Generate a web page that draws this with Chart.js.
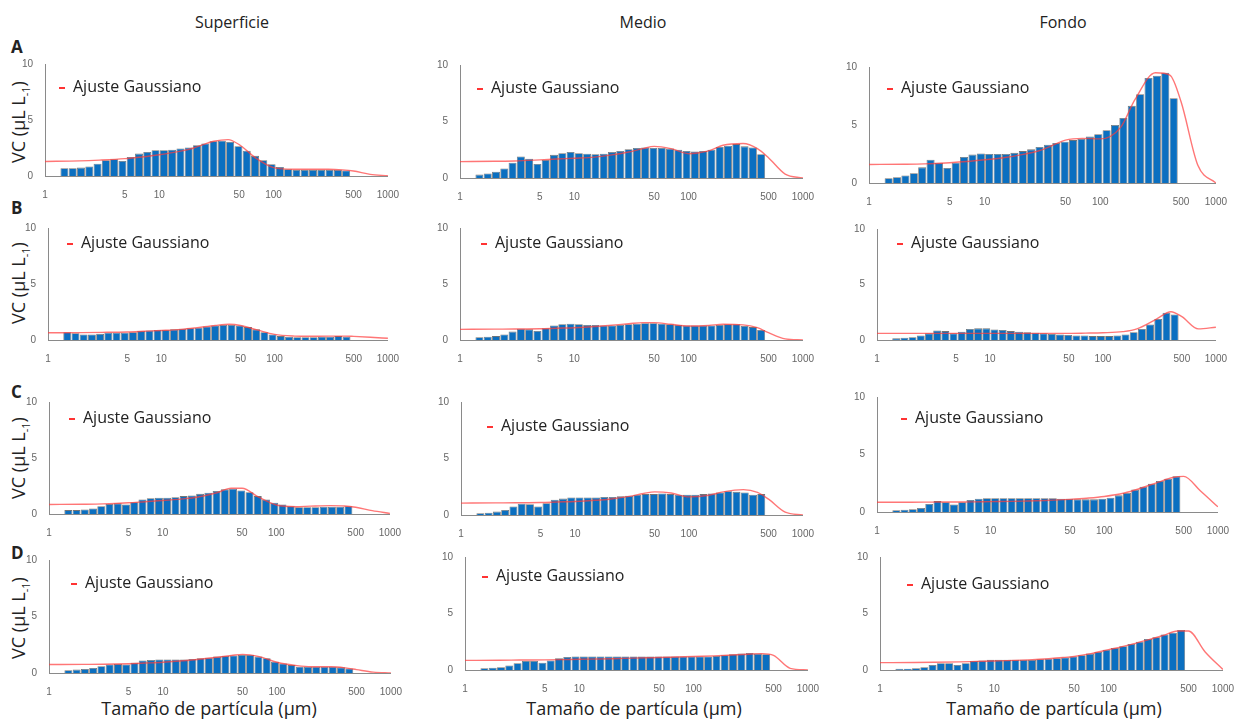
<!DOCTYPE html>
<html>
<head>
<meta charset="utf-8">
<script src="https://cdn.jsdelivr.net/npm/chart.js@4.4.0/dist/chart.umd.min.js"></script>
<style>
  body { margin: 0; background: #fff; width: 1238px; height: 721px; position: relative; overflow: hidden;
         font-family: 'Open Sans', sans-serif; color: #222; }
  canvas { position: absolute; }
  .t { position: absolute; white-space: nowrap; line-height: 22px; }
  .col { font-size: 16px; top: 11px; transform: translateX(-50%); }
  .row { font-size: 17px; font-weight: bold; left: 11px; }
  .yt { font-size: 18px; left: 22px; transform: translate(-50%, -50%) rotate(-90deg); }
  .yt sub { font-size: 11px; }
  .xt { font-size: 18px; top: 697px; transform: translateX(-50%); }
  .leg { font-size: 16px; }
  .leg::before { content: ''; display: inline-block; width: 6px; height: 2px; background: #f33;
                 margin-right: 8px; vertical-align: middle; }
</style>
</head>
<body>
<div class="t col" style="left:232px">Superficie</div>
<div class="t col" style="left:643px">Medio</div>
<div class="t col" style="left:1063px">Fondo</div>

<div class="t row" style="top:36px">A</div>
<div class="t row" style="top:197px">B</div>
<div class="t row" style="top:381px">C</div>
<div class="t row" style="top:542px">D</div>

<div class="t yt" style="top:122px">VC (µL L<sub>-1</sub>)</div>
<div class="t yt" style="top:283px">VC (µL L<sub>-1</sub>)</div>
<div class="t yt" style="top:458px">VC (µL L<sub>-1</sub>)</div>
<div class="t yt" style="top:618px">VC (µL L<sub>-1</sub>)</div>

<div class="t xt" style="left:209px">Tamaño de partícula (µm)</div>
<div class="t xt" style="left:634px">Tamaño de partícula (µm)</div>
<div class="t xt" style="left:1054px">Tamaño de partícula (µm)</div>

<script>
// bin centres (µm) and positions where the gaussian fit was read
const binSizes = [1.479, 1.748, 2.065, 2.441, 2.884, 3.408, 4.027, 4.759, 5.623, 6.645,
  7.852, 9.279, 10.96, 12.96, 15.31, 18.09, 21.38, 25.26, 29.85, 35.28,
  41.69, 49.26, 58.21, 68.79, 81.28, 96.05, 113.5, 134.1, 158.5, 187.3,
  221.3, 261.6, 309.0, 365.3, 431.5];
const fitSizes = [1, 2, 3, 5, 7, 10, 15, 20, 30, 40, 50, 70, 100, 150, 200, 300, 400, 500, 700, 1000];
const xTicks = [1, 5, 10, 50, 100, 500, 1000];
const yTicks = [0, 5, 10];

// A
const supA = [0.7, 0.7, 0.75, 0.85, 1.1, 1.4, 1.5, 1.35, 1.7, 2.0, 2.15, 2.3, 2.3, 2.35, 2.45, 2.55, 2.75, 2.9,
  3.1, 3.15, 3.05, 2.65, 2.25, 1.8, 1.4, 1.05, 0.8, 0.6, 0.55, 0.55, 0.55, 0.55, 0.55, 0.55, 0.5];
const supAFit = [1.3, 1.35, 1.42, 1.55, 1.7, 1.9, 2.2, 2.5, 3.1, 3.25, 2.8, 1.6, 0.75, 0.6, 0.6, 0.6, 0.55, 0.45, 0.15, 0.02];
const medA = [0.3, 0.4, 0.55, 0.85, 1.35, 1.9, 1.7, 1.25, 1.6, 2.05, 2.2, 2.3, 2.2, 2.15, 2.1, 2.15, 2.3, 2.4,
  2.55, 2.65, 2.7, 2.65, 2.65, 2.6, 2.5, 2.4, 2.35, 2.4, 2.5, 2.75, 2.85, 3.0, 2.8, 2.7, 2.1];
const medAFit = [1.45, 1.48, 1.5, 1.6, 1.68, 1.75, 1.85, 2.0, 2.3, 2.6, 2.8, 2.6, 2.15, 2.4, 2.9, 3.05, 2.6, 1.8, 0.35, 0.0];
const fonA = [0.42, 0.5, 0.65, 0.85, 1.35, 2.0, 1.75, 1.3, 1.75, 2.25, 2.45, 2.55, 2.5, 2.5, 2.5, 2.6, 2.75, 2.9,
  3.1, 3.3, 3.45, 3.55, 3.7, 3.8, 4.0, 4.2, 4.55, 5.0, 5.6, 6.65, 7.65, 9.05, 9.25, 9.5, 7.3];
const fonAFit = [1.6, 1.62, 1.65, 1.75, 1.85, 2.0, 2.2, 2.4, 2.8, 3.3, 3.7, 3.85, 3.8, 4.8, 7.2, 9.5, 9.3, 7.0, 1.5, 0.0];

// B
const supB = [0.7, 0.6, 0.5, 0.5, 0.55, 0.65, 0.65, 0.65, 0.7, 0.8, 0.85, 0.9, 0.9, 0.95, 1.0, 1.05, 1.1, 1.2,
  1.3, 1.35, 1.35, 1.3, 1.15, 0.95, 0.7, 0.5, 0.35, 0.3, 0.25, 0.25, 0.25, 0.3, 0.3, 0.35, 0.3];
const supBFit = [0.65, 0.66, 0.68, 0.72, 0.78, 0.85, 0.95, 1.08, 1.3, 1.4, 1.3, 0.9, 0.5, 0.35, 0.33, 0.35, 0.35, 0.32, 0.25, 0.15];
const medB = [0.25, 0.3, 0.35, 0.5, 0.75, 1.0, 0.95, 0.8, 1.05, 1.3, 1.4, 1.45, 1.4, 1.35, 1.35, 1.3, 1.3, 1.35,
  1.4, 1.45, 1.5, 1.5, 1.45, 1.4, 1.35, 1.3, 1.3, 1.3, 1.3, 1.35, 1.4, 1.4, 1.25, 1.15, 0.9];
const medBFit = [0.95, 0.97, 0.98, 1.0, 1.05, 1.1, 1.2, 1.3, 1.45, 1.55, 1.55, 1.4, 1.25, 1.3, 1.4, 1.35, 1.1, 0.65, 0.1, 0.0];
const fonB = [0.15, 0.2, 0.25, 0.4, 0.6, 0.85, 0.8, 0.6, 0.75, 1.0, 1.05, 1.05, 0.95, 0.9, 0.8, 0.75, 0.7, 0.65,
  0.6, 0.55, 0.5, 0.45, 0.4, 0.4, 0.35, 0.35, 0.35, 0.4, 0.5, 0.7, 1.0, 1.4, 1.9, 2.45, 2.3];
const fonBFit = [0.6, 0.6, 0.6, 0.6, 0.6, 0.6, 0.6, 0.6, 0.6, 0.6, 0.6, 0.62, 0.65, 0.75, 1.0, 1.9, 2.55, 2.1, 1.0, 1.15];

// C
const supC = [0.35, 0.35, 0.4, 0.5, 0.7, 0.9, 0.95, 0.85, 1.05, 1.3, 1.4, 1.45, 1.45, 1.5, 1.6, 1.65, 1.8, 1.9,
  2.05, 2.2, 2.25, 2.1, 1.95, 1.6, 1.3, 1.0, 0.85, 0.7, 0.6, 0.6, 0.6, 0.65, 0.65, 0.65, 0.7];
const supCFit = [0.85, 0.87, 0.9, 1.0, 1.1, 1.2, 1.35, 1.5, 1.9, 2.3, 2.3, 1.5, 0.8, 0.65, 0.7, 0.75, 0.72, 0.6, 0.3, 0.05];
const medC = [0.15, 0.2, 0.3, 0.45, 0.75, 1.0, 0.95, 0.75, 1.05, 1.35, 1.45, 1.55, 1.55, 1.55, 1.55, 1.6, 1.6, 1.65,
  1.7, 1.8, 1.85, 1.85, 1.9, 1.85, 1.8, 1.8, 1.8, 1.85, 1.9, 2.0, 2.1, 2.05, 2.0, 1.8, 1.85];
const medCFit = [1.05, 1.07, 1.08, 1.1, 1.15, 1.2, 1.3, 1.4, 1.65, 1.9, 2.05, 1.95, 1.6, 1.75, 2.05, 2.25, 2.0, 1.4, 0.25, 0.0];
const fonC = [0.15, 0.2, 0.25, 0.35, 0.7, 0.95, 0.85, 0.65, 0.85, 1.05, 1.15, 1.2, 1.2, 1.2, 1.2, 1.2, 1.2, 1.2,
  1.2, 1.2, 1.15, 1.15, 1.1, 1.1, 1.1, 1.15, 1.25, 1.45, 1.65, 1.95, 2.2, 2.45, 2.7, 2.9, 3.1];
const fonCFit = [0.85, 0.85, 0.86, 0.87, 0.88, 0.9, 0.92, 0.95, 1.0, 1.05, 1.1, 1.2, 1.35, 1.65, 2.0, 2.6, 3.0, 3.1, 1.85, 0.45];

// D
const supD = [0.25, 0.3, 0.35, 0.45, 0.6, 0.75, 0.8, 0.75, 0.9, 1.1, 1.15, 1.2, 1.2, 1.2, 1.2, 1.25, 1.3, 1.35,
  1.45, 1.5, 1.55, 1.6, 1.6, 1.45, 1.3, 1.0, 0.85, 0.7, 0.55, 0.55, 0.55, 0.55, 0.55, 0.5, 0.4];
const supDFit = [0.75, 0.76, 0.77, 0.82, 0.88, 0.95, 1.08, 1.2, 1.4, 1.55, 1.65, 1.45, 0.95, 0.65, 0.55, 0.55, 0.45, 0.3, 0.08, 0.0];
const medD = [0.15, 0.2, 0.25, 0.4, 0.6, 0.8, 0.8, 0.65, 0.85, 1.05, 1.15, 1.2, 1.2, 1.2, 1.2, 1.2, 1.2, 1.2,
  1.2, 1.2, 1.2, 1.2, 1.2, 1.2, 1.2, 1.2, 1.2, 1.2, 1.25, 1.3, 1.4, 1.45, 1.5, 1.45, 1.4];
const medDFit = [0.85, 0.86, 0.88, 0.9, 0.92, 0.95, 0.97, 1.0, 1.05, 1.08, 1.1, 1.15, 1.2, 1.25, 1.3, 1.4, 1.45, 1.3, 0.15, 0.0];
const fonD = [0.1, 0.12, 0.15, 0.25, 0.45, 0.6, 0.6, 0.45, 0.6, 0.8, 0.85, 0.9, 0.9, 0.9, 0.9, 0.9, 0.9, 0.95,
  1.0, 1.05, 1.1, 1.2, 1.3, 1.45, 1.6, 1.8, 1.95, 2.1, 2.3, 2.5, 2.75, 2.9, 3.15, 3.3, 3.55];
const fonDFit = [0.65, 0.66, 0.68, 0.72, 0.76, 0.8, 0.85, 0.9, 1.0, 1.1, 1.2, 1.45, 1.8, 2.2, 2.55, 3.05, 3.45, 3.45, 1.6, 0.05];

// plot box [left, top, right, bottom] and legend anchor [x, y centre]
const panels = [
  { bars: supA, fit: supAFit, box: [45, 62, 390, 176], leg: [59, 86] },
  { bars: medA, fit: medAFit, box: [460, 63, 805, 178], leg: [477, 87] },
  { bars: fonA, fit: fonAFit, box: [869, 65, 1218, 183], leg: [887, 87] },
  { bars: supB, fit: supBFit, box: [48, 226, 390, 340], leg: [67, 242] },
  { bars: medB, fit: medBFit, box: [460, 226, 805, 340], leg: [481, 242] },
  { bars: fonB, fit: fonBFit, box: [877, 227, 1218, 340], leg: [897, 242] },
  { bars: supC, fit: supCFit, box: [49, 400, 392, 514], leg: [69, 417] },
  { bars: medC, fit: medCFit, box: [461, 400, 805, 515], leg: [487, 425] },
  { bars: fonC, fit: fonCFit, box: [877, 395, 1220, 512], leg: [901, 417] },
  { bars: supD, fit: supDFit, box: [49, 558, 393, 673], leg: [71, 582] },
  { bars: medD, fit: medDFit, box: [465, 555, 810, 670], leg: [482, 575] },
  { bars: fonD, fit: fonDFit, box: [880, 555, 1225, 670], leg: [907, 583] }
];

const yw = 30, xh = 24, pr = 14, pt = 8;

function makePanel(p) {
  const [l, t, r, b] = p.box;
  const c = document.createElement('canvas');
  c.width = r - l + yw + pr;
  c.height = b - t + pt + xh;
  c.style.left = (l - yw) + 'px';
  c.style.top = (t - pt) + 'px';
  document.body.appendChild(c);

  const leg = document.createElement('div');
  leg.className = 't leg';
  leg.textContent = 'Ajuste Gaussiano';
  leg.style.left = p.leg[0] + 'px';
  leg.style.top = (p.leg[1] - 11) + 'px';
  document.body.appendChild(leg);

  return new Chart(c.getContext('2d'), {
    data: {
      datasets: [
        {
          type: 'line',
          data: fitSizes.map((x, i) => ({ x: x, y: p.fit[i] })),
          borderColor: 'rgba(255,60,60,0.7)',
          borderWidth: 1.4,
          pointRadius: 0,
          cubicInterpolationMode: 'monotone'
        },
        {
          type: 'bar',
          data: binSizes.map((x, i) => ({ x: x, y: p.bars[i] })),
          backgroundColor: '#0b6fc0',
          borderColor: 'rgba(70,70,70,0.75)',
          borderWidth: 0.8,
          borderSkipped: 'bottom',
          barPercentage: 0.96,
          categoryPercentage: 1
        }
      ]
    },
    options: {
      responsive: false,
      animation: false,
      events: [],
      layout: { padding: { top: pt, right: pr, left: 0, bottom: 0 } },
      plugins: { legend: { display: false }, tooltip: { enabled: false } },
      scales: {
        x: {
          type: 'logarithmic', min: 1, max: 1000,
          afterBuildTicks: s => { s.ticks = xTicks.map(v => ({ value: v })); },
          afterFit: s => { s.height = xh; },
          grid: { display: false },
          border: { color: '#8a8a8a' },
          ticks: { autoSkip: false, maxRotation: 0, padding: 5, color: '#666',
                   font: { size: 10, family: 'Liberation Sans' }, callback: v => String(v) }
        },
        y: {
          min: 0, max: 10,
          afterBuildTicks: s => { s.ticks = yTicks.map(v => ({ value: v })); },
          afterFit: s => { s.width = yw; },
          grid: { display: false },
          border: { color: '#8a8a8a' },
          ticks: { padding: 4, color: '#666', font: { size: 10, family: 'Liberation Sans' } }
        }
      }
    }
  });
}

panels.forEach(makePanel);
</script>
</body>
</html>
